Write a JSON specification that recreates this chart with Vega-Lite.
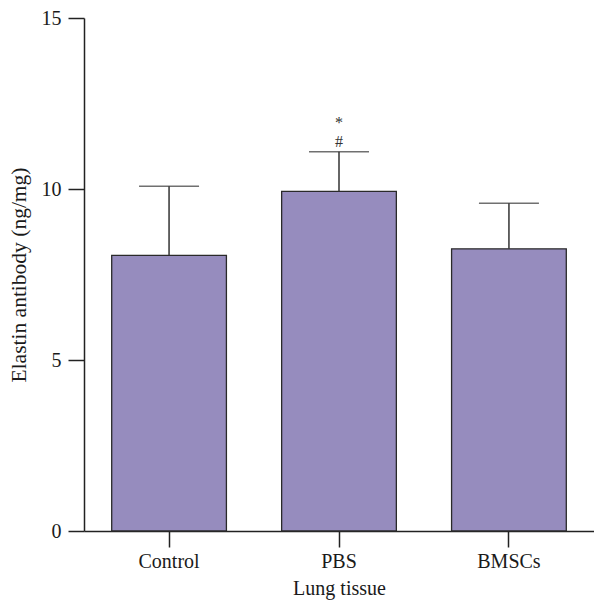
{
  "$schema": "https://vega.github.io/schema/vega-lite/v6.json",
  "autosize": "none",
  "width": 510,
  "height": 513,
  "padding": {"left": 84, "top": 18, "right": 0, "bottom": 76},
  "background": "white",
  "config": {
    "view": {"stroke": null},
    "font": "Liberation Serif",
    "axis": {
      "labelFont": "Liberation Serif",
      "titleFont": "Liberation Serif",
      "labelFontSize": 20,
      "titleFontSize": 20,
      "titleFontWeight": "normal",
      "labelColor": "#1a1a1a",
      "titleColor": "#1a1a1a",
      "domainColor": "#222",
      "tickColor": "#222",
      "domainWidth": 1.5,
      "tickWidth": 1.5,
      "tickSize": 16,
      "grid": false
    }
  },
  "data": {
    "values": [
      {"group": "Control", "mean": 8.06, "upper": 10.08, "sig": ""},
      {"group": "PBS", "mean": 9.93, "upper": 11.09, "sig": "#"},
      {"group": "BMSCs", "mean": 8.25, "upper": 9.58, "sig": ""}
    ]
  },
  "encoding": {
    "x": {
      "field": "group",
      "type": "nominal",
      "sort": ["Control", "PBS", "BMSCs"],
      "scale": {"paddingInner": 0.325, "paddingOuter": 0.163},
      "axis": {"title": "Lung tissue", "labelAngle": 0, "labelPadding": 4, "titlePadding": 7}
    }
  },
  "layer": [
    {
      "mark": {"type": "bar", "fill": "#968CBE", "stroke": "#2a2a2a", "strokeWidth": 1.3},
      "encoding": {
        "y": {
          "field": "mean",
          "type": "quantitative",
          "scale": {"domain": [0, 15], "nice": false},
          "axis": {"title": "Elastin antibody (ng/mg)", "titleFontSize": 21.5, "values": [0, 5, 10, 15], "labelPadding": 7, "titlePadding": 11}
        }
      }
    },
    {
      "mark": {"type": "rule", "color": "#333", "strokeWidth": 1.5},
      "encoding": {
        "y": {"field": "mean", "type": "quantitative"},
        "y2": {"field": "upper"}
      }
    },
    {
      "mark": {"type": "tick", "color": "#333", "size": 60, "thickness": 1.5},
      "encoding": {
        "y": {"field": "upper", "type": "quantitative"}
      }
    },
    {
      "transform": [{"filter": "datum.sig != ''"}],
      "mark": {"type": "text", "fontSize": 16, "color": "#333", "baseline": "alphabetic", "dy": -24, "lineHeight": 19, "font": "Liberation Serif"},
      "encoding": {
        "y": {"field": "upper", "type": "quantitative"},
        "text": {"value": ["*", "#"]}
      }
    }
  ]
}
